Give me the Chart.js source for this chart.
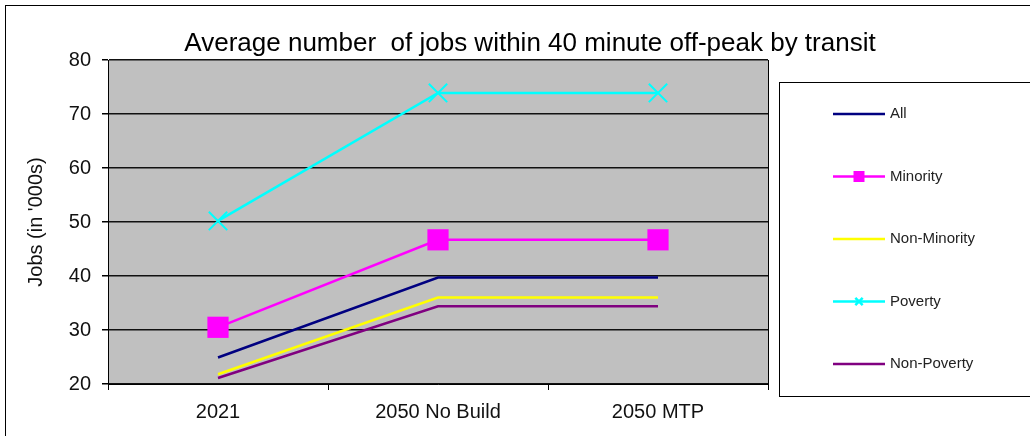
<!DOCTYPE html>
<html>
<head>
<meta charset="utf-8">
<script src="https://cdn.jsdelivr.net/npm/chart.js@4.4.1/dist/chart.umd.min.js"></script>
<style>
  html, body { margin: 0; padding: 0; background: #fff; }
  #wrap { width: 1030px; height: 436px; }
</style>
</head>
<body>
<div id="wrap"><canvas id="jobsChart"></canvas></div>
<script>
  // data (jobs, in thousands)
  const scenarios = ['2021', '2050 No Build', '2050 MTP'];
  const allJobs = [24.9, 39.7, 39.7];
  const minorityJobs = [30.5, 46.7, 46.7];
  const nonMinorityJobs = [21.8, 36.0, 36.0];
  const povertyJobs = [50.2, 73.9, 73.9];
  const nonPovertyJobs = [21.1, 34.4, 34.4];
  const yTicks = [20, 30, 40, 50, 60, 70, 80];

  const titleText = 'Average number  of jobs within 40 minute off-peak by transit';
  const fontName = '"Liberation Sans", Arial, sans-serif';

  // gray plot area, outer frame, title and the boxed legend on the right
  const excelLook = {
    id: 'excelLook',
    beforeDraw(chart) {
      const { ctx, chartArea: a } = chart;
      ctx.save();
      ctx.fillStyle = '#ffffff';
      ctx.fillRect(0, 0, chart.width, chart.height);
      ctx.strokeStyle = '#000';
      ctx.lineWidth = 1;
      ctx.strokeRect(5.5, 5.5, chart.width + 20, chart.height + 20);
      ctx.fillStyle = '#c0c0c0';
      ctx.fillRect(a.left, a.top, a.right - a.left, a.bottom - a.top);
      ctx.restore();
    },
    beforeDatasetsDraw(chart) {
      const { ctx, chartArea: a } = chart;
      ctx.save();
      ctx.strokeStyle = '#000';
      ctx.lineWidth = 1;
      ctx.beginPath();
      ctx.moveTo(Math.round(a.right) + 0.5, a.top);
      ctx.lineTo(Math.round(a.right) + 0.5, a.bottom);
      ctx.stroke();
      ctx.restore();
    },
    afterDraw(chart) {
      const { ctx } = chart;
      ctx.save();
      // title
      ctx.fillStyle = '#000';
      ctx.font = '26px ' + fontName;
      ctx.textAlign = 'center';
      ctx.textBaseline = 'middle';
      ctx.fillText(titleText, 530, 44);

      // legend box
      ctx.strokeStyle = '#000';
      ctx.lineWidth = 1;
      ctx.strokeRect(779.5, 82.5, 270, 314);
      ctx.font = '15px ' + fontName;
      ctx.textAlign = 'left';
      chart.data.datasets.forEach((ds, i) => {
        const y = 114 + i * 62.5;
        ctx.strokeStyle = ds.borderColor;
        ctx.lineWidth = 2.5;
        ctx.beginPath();
        ctx.moveTo(833, y);
        ctx.lineTo(885, y);
        ctx.stroke();
        if (ds.pointRadius > 0) {
          Chart.helpers.drawPoint(ctx, {
            pointStyle: ds.pointStyle,
            radius: ds.pointRadius * 0.4,
            borderWidth: 2
          }, 859, y);
          if (ds.pointStyle === 'rect') {
            ctx.fillStyle = ds.backgroundColor;
            ctx.fillRect(855, y - 4, 9, 9);
          }
        }
        ctx.fillStyle = '#222';
        ctx.fillText(ds.label, 890, y);
      });
      ctx.restore();
    }
  };

  const ctx = document.getElementById('jobsChart').getContext('2d');
  const jobsChart = new Chart(ctx, {
    type: 'line',
    data: {
      labels: scenarios,
      datasets: [{
        label: 'All',
        data: allJobs,
        borderColor: '#000080',
        backgroundColor: '#000080',
        borderWidth: 2.5,
        pointRadius: 0
      }, {
        label: 'Minority',
        data: minorityJobs,
        borderColor: '#ff00ff',
        backgroundColor: '#ff00ff',
        borderWidth: 2.5,
        pointStyle: 'rect',
        pointRadius: 15,
        pointBorderWidth: 0
      }, {
        label: 'Non-Minority',
        data: nonMinorityJobs,
        borderColor: '#ffff00',
        backgroundColor: '#ffff00',
        borderWidth: 2.5,
        pointRadius: 0
      }, {
        label: 'Poverty',
        data: povertyJobs,
        borderColor: '#00ffff',
        backgroundColor: '#00ffff',
        borderWidth: 2.5,
        pointStyle: 'crossRot',
        pointRadius: 13,
        pointBorderWidth: 2
      }, {
        label: 'Non-Poverty',
        data: nonPovertyJobs,
        borderColor: '#800080',
        backgroundColor: '#800080',
        borderWidth: 2.5,
        pointRadius: 0
      }]
    },
    options: {
      responsive: true,
      maintainAspectRatio: false,
      animation: false,
      layout: {
        padding: { left: 24, right: 262, top: 60, bottom: 2 }
      },
      plugins: {
        legend: { display: false },
        title: { display: false },
        tooltip: { enabled: false }
      },
      scales: {
        x: {
          offset: true,
          grid: {
            offset: true,
            drawOnChartArea: false,
            tickLength: 6,
            tickColor: '#000'
          },
          border: { color: '#000', width: 1 },
          ticks: {
            color: '#111',
            padding: 10,
            font: { family: fontName, size: 20 }
          }
        },
        y: {
          min: yTicks[0],
          max: yTicks[yTicks.length - 1],
          afterFit: (scale) => { scale.width = 84; },
          afterBuildTicks: (scale) => {
            scale.ticks = yTicks.map(v => ({ value: v }));
          },
          grid: {
            color: '#111',
            lineWidth: 1.5,
            tickLength: 6,
            tickColor: '#000'
          },
          border: { color: '#000', width: 1 },
          ticks: {
            color: '#111',
            padding: 11,
            font: { family: fontName, size: 20 }
          },
          title: {
            display: true,
            text: "Jobs (in '000s)",
            color: '#111',
            padding: 0,
            font: { family: fontName, size: 20 }
          }
        }
      }
    },
    plugins: [excelLook]
  });
</script>
</body>
</html>
